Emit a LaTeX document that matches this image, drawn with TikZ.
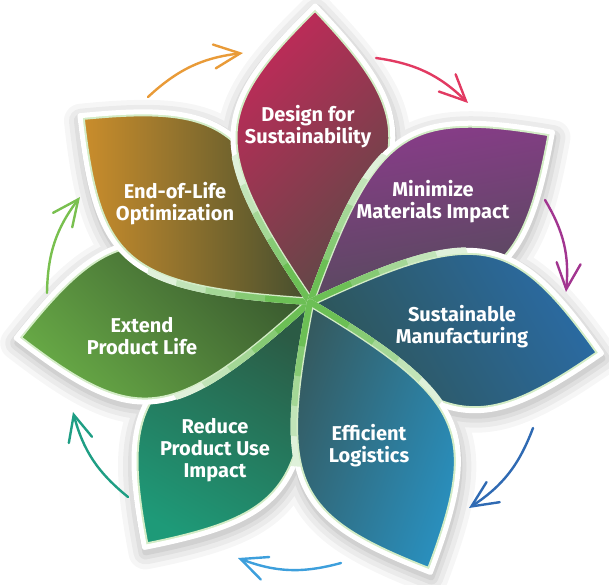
\documentclass[tikz,border=0pt]{standalone}
\usepackage{fontspec}
\newfontfamily\lbl{Fira Sans}[UprightFont=* Bold]
\usetikzlibrary{arrows.meta}
\definecolor{leafgreen}{HTML}{6CBF55}
\definecolor{palegreen}{HTML}{D3ECC6}
\definecolor{dsA}{HTML}{C6285A}\definecolor{dsB}{HTML}{574B45}
\definecolor{mmA}{HTML}{8E3A8E}\definecolor{mmB}{HTML}{534B5A}
\definecolor{smA}{HTML}{2A6CA8}\definecolor{smB}{HTML}{2E5453}
\definecolor{elA}{HTML}{2895C8}\definecolor{elB}{HTML}{35575A}
\definecolor{rpA}{HTML}{2B5B45}\definecolor{rpB}{HTML}{1E9A78}
\definecolor{epA}{HTML}{36532D}\definecolor{epB}{HTML}{6AAE47}
\definecolor{eoA}{HTML}{CC8E2C}\definecolor{eoB}{HTML}{444E2E}
\definecolor{arOrange}{HTML}{E99B38}
\definecolor{arRed}{HTML}{E23A62}
\definecolor{arPurple}{HTML}{A23590}
\definecolor{arBlue}{HTML}{2F6AB3}
\definecolor{arLight}{HTML}{3D9FDC}
\definecolor{arTeal}{HTML}{1E9E84}
\definecolor{arGreen}{HTML}{79C04F}
\newcommand\petalshape[1]{(0,0) .. controls (#1+35.15:185.9) and (#1+29.29:216.7) .. (#1:296) .. controls (#1-29.29:216.7) and (#1-35.15:185.9) .. (0,0) -- cycle}
\newcommand\drawpetal[4]{%
  \shade[top color=#2, bottom color=#3, shading angle=#4] \petalshape{#1};
  \begin{scope}\clip \petalshape{#1}; \draw[palegreen, line width=9pt] \petalshape{#1};\end{scope}
  \draw[white, line width=5pt, line join=round] \petalshape{#1};
  \foreach \rr/\cc in {165/22,135/42,105/62,75/82,45/100}{%
    \begin{scope}\clip (0,0) circle[radius=\rr]; \draw[leafgreen!\cc!white, line width=6pt, line join=round] \petalshape{#1};\end{scope}}%
}
\tikzset{
  lbltext/.style={text=white, align=center, font=\lbl\fontsize{20}{22}\selectfont, inner sep=0pt},
  cyc/.style={line width=2.4pt, line cap=round, -{Straight Barb[length=26pt,width=24pt,line cap=round]}, bend left=18},
}
\begin{document}
\begin{tikzpicture}[x=1pt,y=1pt]
\useasboundingbox (0,0) rectangle (609,584);
\fill[white] (0,0) rectangle (609,584);
% soft shadow
\begin{scope}[shift={(311,277)}]
\foreach \w/\o in {34/0.035,24/0.045,14/0.05,6/0.06}{%
  \draw[black, opacity=\o, line width=\w pt, line join=round] \petalshape{89} \petalshape{35} \petalshape{-10} \petalshape{-66} \petalshape{-124} \petalshape{-173} \petalshape{141};}
\end{scope}
% petals
\begin{scope}[shift={(310,282)}]
\drawpetal{-124}{rpA}{rpB}{-30}
\drawpetal{-173}{epA}{epB}{-45}
\drawpetal{141}{eoA}{eoB}{90}
\drawpetal{89}{dsA}{dsB}{45}
\drawpetal{35}{mmA}{mmB}{10}
\drawpetal{-10}{smA}{smB}{-60}
\drawpetal{-66}{elA}{elB}{-110}
\end{scope}
% labels
\node[lbltext] (ds) at (308,457) {Design for\\Sustainability};
\node[lbltext] (mm) at (433,382) {Minimize\\Materials Impact};
\node[lbltext] (sm) at (462,257) {Sustainable\\Manufacturing};
\node[lbltext] (el) at (369,138) {Efficient\\Logistics};
\node[lbltext] (rp) at (215,134) {Reduce\\Product Use\\Impact};
\node[lbltext] (ep) at (142,248) {Extend\\Product Life};
\node[lbltext] (eo) at (175,380) {End-of-Life\\Optimization};
% cycle arrows
\coordinate (a1s) at (148,487); \coordinate (a1e) at (243,531);
\coordinate (a2s) at (376,526); \coordinate (a2e) at (468,481);
\coordinate (a3s) at (545,384); \coordinate (a3e) at (566,292);
\coordinate (a4s) at (533,156); \coordinate (a4e) at (469,76);
\coordinate (a5s) at (341,21);  \coordinate (a5e) at (238,26);
\coordinate (a6s) at (128,87);  \coordinate (a6e) at (73,172);
\coordinate (a7s) at (47,291);  \coordinate (a7e) at (80,387);
\draw[cyc, arOrange] (a1s) to (a1e);
\draw[cyc, arRed] (a2s) to (a2e);
\draw[cyc, arPurple] (a3s) to (a3e);
\draw[cyc, arBlue] (a4s) to (a4e);
\draw[cyc, arLight] (a5s) to (a5e);
\draw[cyc, arTeal] (a6s) to (a6e);
\draw[cyc, arGreen] (a7s) to (a7e);
\end{tikzpicture}
\end{document}
